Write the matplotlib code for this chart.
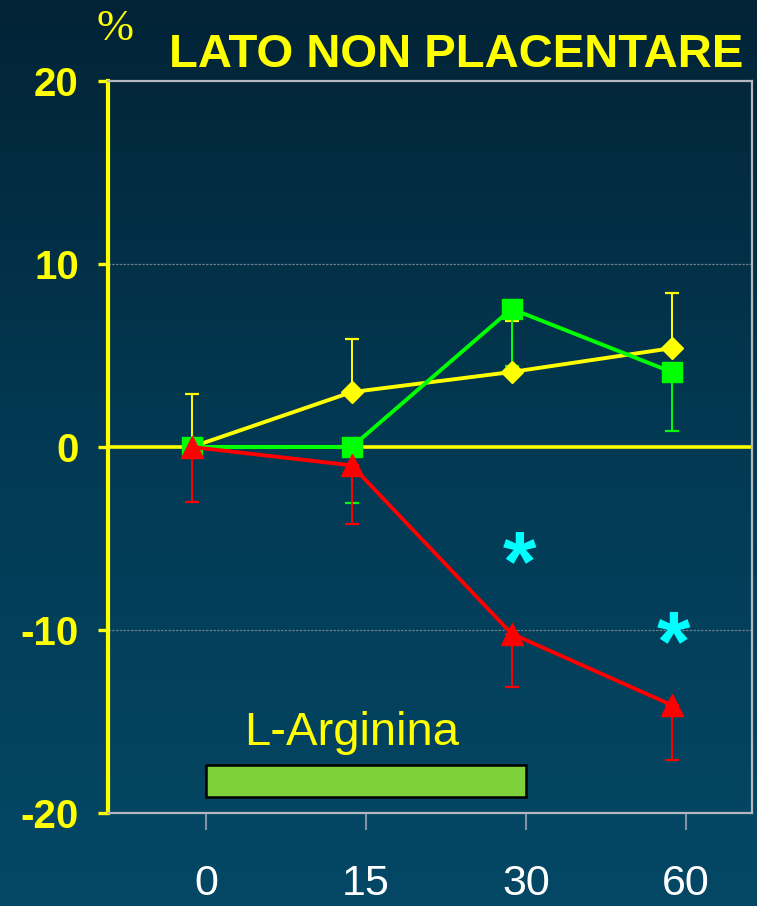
import numpy as np
import matplotlib.pyplot as plt
from matplotlib.colors import LinearSegmentedColormap
from matplotlib.patches import Rectangle

# time points (min) and % change per group
times = ["0", "15", "30", "60"]
yellow_vals = [0, 3.0, 4.1, 5.4]
yellow_err = [2.9, 2.9, 2.8, 3.0]      # upper only
green_vals = [0, 0, 7.55, 4.1]
green_err = [0, 3.05, 3.15, 3.2]       # lower only
red_vals = [0, -1.0, -10.2, -14.1]
red_err = [3.0, 3.2, 2.9, 3.0]         # lower only

# significance marks: (category index, y)
star_x = [1.96, 2.92]
star_y = [-6.6, -11.0]

# infusion window (category indices) and bar height range
arginina_span = [0, 2]
arginina_y = [-19.1, -17.4]

YELLOW = "#ffff00"
GREEN = "#00ff00"
RED = "#ff0000"
CYAN = "#00ffff"

fig = plt.figure(figsize=(7.57, 9.06), dpi=100)

# background gradient
bg = fig.add_axes([0, 0, 1, 1], zorder=-10)
cmap = LinearSegmentedColormap.from_list("bg", ["#022336", "#023a54", "#044866"])
bg.imshow(np.linspace(0, 1, 256)[:, None], aspect="auto", cmap=cmap,
          extent=[0, 1, 0, 1])
bg.set_axis_off()

ax = fig.add_axes([0.1427, 0.1026, 0.8507, 0.808])
ax.set_facecolor("none")

x = np.arange(len(times))
xm = x - 0.09

ax.set_xlim(-0.6125, 3.4125)
ax.set_ylim(-20, 20)

# grid and zero line
for gy in [10, -10]:
    ax.axhline(gy, color="#6a7f8e", lw=0.9, ls=(0, (2, 1)), zorder=1)
ax.axhline(0, color=YELLOW, lw=2.6, zorder=2)

ax.errorbar(xm, yellow_vals, yerr=[np.zeros(4), yellow_err], fmt="none",
            ecolor=YELLOW, elinewidth=1.4, capsize=5, capthick=1.6, zorder=3)
ax.errorbar(xm, green_vals, yerr=[green_err, np.zeros(4)], fmt="none",
            ecolor=GREEN, elinewidth=1.4, capsize=5, capthick=1.6, zorder=3)
ax.errorbar(xm, red_vals, yerr=[red_err, np.zeros(4)], fmt="none",
            ecolor=RED, elinewidth=1.4, capsize=5, capthick=1.6, zorder=3)

ax.plot(xm, yellow_vals, color=YELLOW, lw=2.8, marker="D", ms=11,
        mec=YELLOW, zorder=4)
ax.plot(xm, green_vals, color=GREEN, lw=2.8, marker="s", ms=14,
        mec=GREEN, zorder=5)
ax.plot(xm, red_vals, color=RED, lw=2.8, marker="^", ms=16,
        mec=RED, zorder=6)

for sx, sy in zip(star_x, star_y):
    ax.text(sx, sy, "*", color=CYAN, fontsize=62, fontweight="bold",
            ha="center", va="center", family="Liberation Sans", zorder=7)

# L-Arginina infusion bar
ax.add_patch(Rectangle((arginina_span[0], arginina_y[0]),
                       arginina_span[1] - arginina_span[0],
                       arginina_y[1] - arginina_y[0],
                       facecolor="#7fd13b", edgecolor="black", lw=1.8,
                       zorder=4))
ax.text(np.mean(arginina_span) - 0.09, -15.65, "L-Arginina", color=YELLOW,
        fontsize=34, ha="center", va="center", family="Liberation Sans")

# spines and ticks
ax.spines["left"].set_color(YELLOW)
ax.spines["left"].set_linewidth(3)
for s in ["top", "right", "bottom"]:
    ax.spines[s].set_color("#b4b8bc")
    ax.spines[s].set_linewidth(1.6)

ax.set_yticks([20, 10, 0, -10, -20])
ax.set_yticklabels(["20", "10", "0", "-10", "-20"])
ax.tick_params(axis="y", colors=YELLOW, length=7, width=2.4, pad=14)
for lab in ax.get_yticklabels():
    lab.set_fontsize(29)
    lab.set_fontweight("bold")
    lab.set_family("Liberation Sans")

ax.set_xticks(x)
ax.set_xticklabels(times)
ax.tick_params(axis="x", color="#7f93a3", length=12, width=1.5, pad=25,
               labelcolor="white")
for lab in ax.get_xticklabels():
    lab.set_fontsize(31)
    lab.set_family("Liberation Sans")

fig.text(0.9815, 0.939, "LATO NON PLACENTARE", color=YELLOW, fontsize=34,
         fontweight="bold", ha="right", va="center", family="Liberation Sans")
fig.text(0.152, 0.968, "%", color=YELLOW, fontsize=32, ha="center",
         va="center", family="Liberation Serif")

fig.savefig("out.png", dpi=100)
